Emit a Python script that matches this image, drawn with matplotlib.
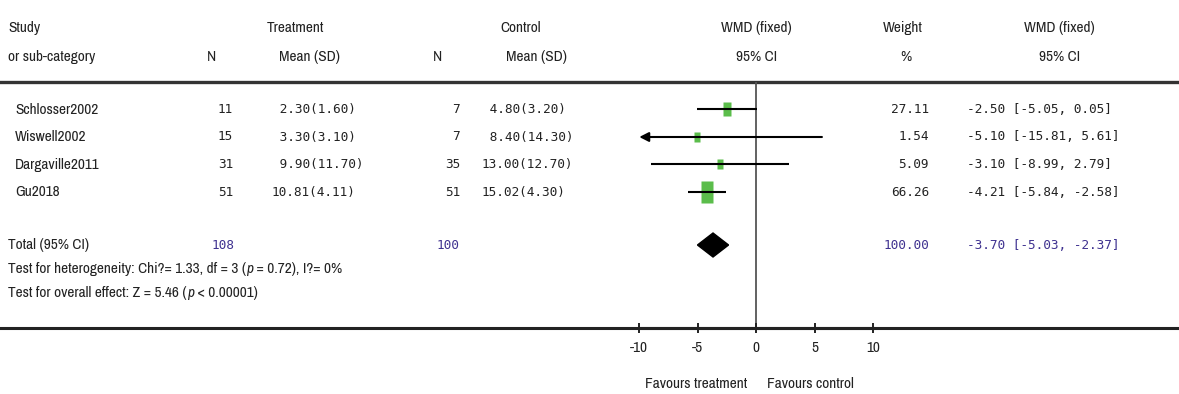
import matplotlib
matplotlib.use("Agg")
import matplotlib.pyplot as plt
from matplotlib import font_manager
from matplotlib.font_manager import FontProperties
from matplotlib.textpath import TextPath
from matplotlib.patches import Polygon
import numpy as np

# data
studies = ["Schlosser2002", "Wiswell2002", "Dargaville2011", "Gu2018"]
n_treat = [11, 15, 31, 51]
mean_treat = [2.30, 3.30, 9.90, 10.81]
sd_treat = [1.60, 3.10, 11.70, 4.11]
n_ctrl = [7, 7, 35, 51]
mean_ctrl = [4.80, 8.40, 13.00, 15.02]
sd_ctrl = [3.20, 14.30, 12.70, 4.30]
weights = [27.11, 1.54, 5.09, 66.26]
wmd = [-2.50, -5.10, -3.10, -4.21]
ci_low = [-5.05, -15.81, -8.99, -5.84]
ci_high = [0.05, 5.61, 2.79, -2.58]

total_n_treat, total_n_ctrl = 108, 100
total_weight = 100.00
total_wmd, total_low, total_high = -3.70, -5.03, -2.37
# (text, italic) pieces
het_parts = [("Test for heterogeneity: Chi?= 1.33, df = 3 (", False), ("p", True),
             (" = 0.72), I?= 0%", False)]
eff_parts = [("Test for overall effect: Z = 5.46 (", False), ("p", True), (" < 0.00001)", False)]
xticks = [-10, -5, 0, 5, 10]


# pick the narrowest sans available
def find_font():
    reg, it = None, None
    best = 99
    for f in font_manager.fontManager.ttflist:
        fn = f.fname.lower()
        if "mono" in fn or "serif" in fn and "sans" not in fn:
            continue
        if "narrow" in fn:
            p = 0
        elif "condensed" in fn and ("dejavu" in fn or "roboto" in fn or "sans" in fn):
            p = 1
        else:
            continue
        if "bold" in fn or "light" in fn or "black" in fn or "thin" in fn or "medium" in fn:
            continue
        if "italic" in fn or "oblique" in fn:
            if p <= best:
                it = f.fname
            continue
        if p < best:
            best, reg = p, f.fname
    return reg, it


reg_file, it_file = find_font()
if reg_file:
    fp_reg = FontProperties(fname=reg_file)
    fp_it = FontProperties(fname=it_file) if it_file else FontProperties(family="Liberation Sans", style="italic")
else:
    fp_reg = FontProperties(family="Liberation Sans")
    fp_it = FontProperties(family="Liberation Sans", style="italic")

# size so that the heterogeneity line is ~334 px wide, as in the reference
w10 = TextPath((0, 0), "".join(p for p, _ in het_parts), size=10, prop=fp_reg).get_extents().width
FS = min(12, 10 * 334 * 0.72 / w10)
MONO, MFS = "DejaVu Sans Mono", 9.2

TXT = "#222222"
PURPLE = "#3f3290"
GREEN = "#5bbd4b"

W, H = 1179, 394
fig = plt.figure(figsize=(W / 100, H / 100), dpi=100)
bg = fig.add_axes([0, 0, 1, 1])
bg.set_xlim(0, W)
bg.set_ylim(H, 0)
bg.axis("off")

# layout (pixel positions)
row_y = [109.5, 137, 164.5, 192]
total_y = 245
het_y, eff_y = 269, 293
top_rule, bot_rule = 82, 328
x_lo_px, x_hi_px = 639.3, 873.3


def sans(x, y, s, ha="left", color=TXT, italic=False):
    fp = (fp_it if italic else fp_reg).copy()
    fp.set_size(FS)
    return bg.text(x, y, s, ha=ha, va="center", fontproperties=fp, color=color)


def sans_parts(x, y, parts):
    prev = None
    for s, it in parts:
        fp = (fp_it if it else fp_reg).copy()
        fp.set_size(FS)
        if prev is None:
            prev = bg.text(x, y, s, ha="left", va="center", fontproperties=fp, color=TXT)
        else:
            prev = bg.annotate(s, xy=(1, 0), xycoords=prev, ha="left", va="bottom",
                               fontproperties=fp, color=TXT)


def mono(x, y, s, ha="left", color=TXT):
    bg.text(x, y, s, ha=ha, va="center", fontsize=MFS, family=MONO, color=color)


# header
sans(8, 28, "Study")
sans(8, 57, "or sub-category")
sans(212, 57, "N", ha="center")
sans(295, 28, "Treatment", ha="center")
sans(309, 57, "Mean (SD)", ha="center")
sans(437, 57, "N", ha="center")
sans(521, 28, "Control", ha="center")
sans(536, 57, "Mean (SD)", ha="center")
sans(756, 28, "WMD (fixed)", ha="center")
sans(757, 57, "95% CI", ha="center")
sans(903, 28, "Weight", ha="center")
sans(906, 57, "%", ha="center")
sans(1059, 28, "WMD (fixed)", ha="center")
sans(1060, 57, "95% CI", ha="center")

bg.plot([0, W], [top_rule, top_rule], color="#333333", lw=2.4)
bg.plot([0, W], [bot_rule, bot_rule], color="#222222", lw=2.2)

# study rows
for i, name in enumerate(studies):
    y = row_y[i]
    sans(15, y, name)
    mono(233, y, f"{n_treat[i]}", ha="right")
    mono(272, y, f"{mean_treat[i]:5.2f}({sd_treat[i]:.2f})")
    mono(460, y, f"{n_ctrl[i]}", ha="right")
    mono(482, y, f"{mean_ctrl[i]:5.2f}({sd_ctrl[i]:.2f})")
    mono(929, y, f"{weights[i]:.2f}", ha="right")
    mono(967, y, f"{wmd[i]:.2f} [{ci_low[i]:.2f}, {ci_high[i]:.2f}]")

# totals
sans(8, total_y, "Total (95% CI)")
mono(234, total_y, f"{total_n_treat}", ha="right", color=PURPLE)
mono(459, total_y, f"{total_n_ctrl}", ha="right", color=PURPLE)
mono(929, total_y, f"{total_weight:.2f}", ha="right", color=PURPLE)
mono(967, total_y, f"{total_wmd:.2f} [{total_low:.2f}, {total_high:.2f}]", color=PURPLE)
sans_parts(8, het_y, het_parts)
sans_parts(8, eff_y, eff_parts)

# forest panel
ax = fig.add_axes([x_lo_px / W, 1 - bot_rule / H, (x_hi_px - x_lo_px) / W, (bot_rule - top_rule) / H])
ax.set_xlim(xticks[0], xticks[-1])
ax.set_ylim(bot_rule, top_rule)
ax.patch.set_alpha(0)
for s in ["top", "left", "right"]:
    ax.spines[s].set_visible(False)
ax.spines["bottom"].set_color("#222222")
ax.spines["bottom"].set_linewidth(2.2)
ax.set_yticks([])
ax.set_xticks(xticks)
tick_fp = fp_reg.copy()
tick_fp.set_size(FS)
ax.set_xticklabels([str(t) for t in xticks], fontproperties=tick_fp, color=TXT)
ax.tick_params(axis="x", direction="inout", length=7, width=1.4, pad=6, color="#222222")
ax.axvline(0, color="#555555", lw=1.3, zorder=1)

lo_lim, hi_lim = xticks[0], xticks[-1]
rect = [(-0.275, -0.5), (0.275, -0.5), (0.275, 0.5), (-0.275, 0.5), (-0.275, -0.5)]
for i in range(len(studies)):
    y = row_y[i]
    h_px = max(10, 2.7 * np.sqrt(weights[i]))
    ax.plot(wmd[i], y, marker=rect, ms=h_px * 0.72, color=GREEN, mec="none", zorder=2)
    lo = max(ci_low[i], lo_lim)
    hi = min(ci_high[i], hi_lim)
    if ci_low[i] < lo_lim:
        ax.annotate("", xy=(lo, y), xytext=(hi, y),
                    arrowprops=dict(arrowstyle="-|>,head_length=0.55,head_width=0.28",
                                    lw=1.5, color="black", shrinkA=0, shrinkB=0),
                    zorder=3, annotation_clip=False)
    else:
        ax.plot([lo, hi], [y, y], color="black", lw=1.5, zorder=3, solid_capstyle="butt")

ax.add_patch(Polygon([(total_low, total_y), (total_wmd, total_y - 12),
                      (total_high, total_y), (total_wmd, total_y + 12)],
                     closed=True, color="black", zorder=3))

sans(747, 384, "Favours treatment", ha="right")
sans(767, 384, "Favours control")

fig.savefig("out.png", dpi=100)
